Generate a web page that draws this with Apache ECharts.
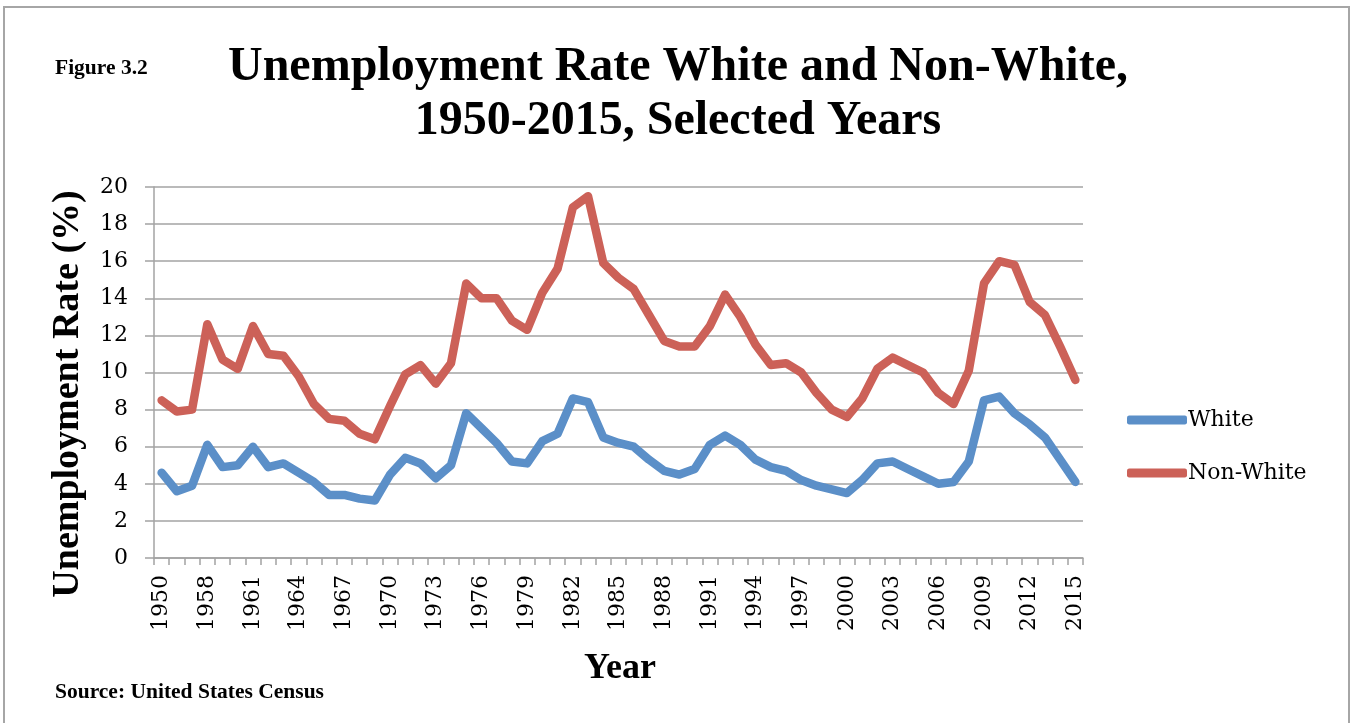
<!DOCTYPE html>
<html>
<head>
<meta charset="utf-8">
<script src="https://cdn.jsdelivr.net/npm/echarts@6/dist/echarts.min.js"></script>
<style>
  html, body { margin: 0; padding: 0; background: #fff; }
  #chart { width: 1351px; height: 723px; }
</style>
</head>
<body>
<div id="chart"></div>
<script>
const years = ['1950','1956','1957','1958','1959','1960','1961','1962','1963','1964','1965','1966','1967','1968','1969',
  '1970','1971','1972','1973','1974','1975','1976','1977','1978','1979','1980','1981','1982','1983','1984','1985',
  '1986','1987','1988','1989','1990','1991','1992','1993','1994','1995','1996','1997','1998','1999','2000','2001',
  '2002','2003','2004','2005','2006','2007','2008','2009','2010','2011','2012','2013','2014','2015'];
const white = [4.6,3.6,3.9,6.1,4.9,5.0,6.0,4.9,5.1,4.6,4.1,3.4,3.4,3.2,3.1,4.5,5.4,5.1,4.3,5.0,7.8,7.0,6.2,5.2,5.1,6.3,
  6.7,8.6,8.4,6.5,6.2,6.0,5.3,4.7,4.5,4.8,6.1,6.6,6.1,5.3,4.9,4.7,4.2,3.9,3.7,3.5,4.2,5.1,5.2,4.8,4.4,4.0,4.1,5.2,
  8.5,8.7,7.8,7.2,6.5,5.3,4.1];
const nonWhite = [8.5,7.9,8.0,12.6,10.7,10.2,12.5,11.0,10.9,9.8,8.3,7.5,7.4,6.7,6.4,8.2,9.9,10.4,9.4,10.5,14.8,14.0,14.0,
  12.8,12.3,14.3,15.6,18.9,19.5,15.9,15.1,14.5,13.1,11.7,11.4,11.4,12.5,14.2,13.0,11.5,10.4,10.5,10.0,8.9,8.0,7.6,8.6,
  10.2,10.8,10.4,10.0,8.9,8.3,10.1,14.8,16.0,15.8,13.8,13.1,11.4,9.6];
const seriesNames = ['White', 'Non-White'];
const titleLines = ['Unemployment Rate White and Non-White,', '1950-2015, Selected Years'];

const chart = echarts.init(document.getElementById('chart'), null, { renderer: 'canvas' });
const serifB = 'bold {S}px "Liberation Serif", "Times New Roman", serif';
const f = s => serifB.replace('{S}', s);
const tickFont = '"DejaVu Serif", serif';
const gray = '#A3A3A3';

function txt(text, x, y, font, align, extra) {
  return Object.assign({
    type: 'text', x: x, y: y,
    style: { text: text, font: font, fill: '#000', align: align, verticalAlign: 'middle',
             textAlign: align, textVerticalAlign: 'middle' }
  }, extra || {});
}

chart.setOption({
  backgroundColor: '#fff',
  animation: false,
  grid: { left: 154, right: 268, top: 187, bottom: 165 },
  legend: {
    orient: 'vertical', left: 1122, top: 404,
    itemWidth: 60, itemHeight: 9, itemGap: 31,
    icon: 'roundRect',
    textStyle: { fontFamily: tickFont, fontSize: 22, color: '#000', padding: [0,0,0,-4] },
    data: seriesNames
  },
  xAxis: {
    type: 'category', data: years, boundaryGap: true,
    axisLine: { show: true, lineStyle: { color: gray, width: 1.5 } },
    axisTick: { show: true, interval: 0, length: 7, lineStyle: { color: gray, width: 1.5 } },
    axisLabel: { interval: 2, rotate: 90, margin: 17, fontFamily: tickFont, fontSize: 22, color: '#000' },
    splitLine: { show: false }
  },
  yAxis: {
    type: 'value', min: 0, max: 20, interval: 2,
    axisLine: { show: true, lineStyle: { color: gray, width: 1.5 } },
    axisTick: { show: true, length: 9, lineStyle: { color: gray, width: 1.5 } },
    axisLabel: { margin: 26, fontFamily: tickFont, fontSize: 22, color: '#000' },
    splitLine: { show: true, lineStyle: { color: gray, width: 1.5 } }
  },
  series: [
    { name: seriesNames[0], type: 'line', data: white, showSymbol: false, symbol: 'none',
      color: '#5B8FC8', lineStyle: { width: 8.5, color: '#5B8FC8', cap: 'round', join: 'round' } },
    { name: seriesNames[1], type: 'line', data: nonWhite, showSymbol: false, symbol: 'none',
      color: '#CC6158', lineStyle: { width: 8.5, color: '#CC6158', cap: 'round', join: 'round' } }
  ],
  graphic: [
    { type: 'rect', shape: { x: 4, y: 7, width: 1345, height: 800 }, silent: true,
      style: { fill: 'none', stroke: '#A6A6A6', lineWidth: 2 } },
    txt('Figure 3.2', 55, 68, f(21.5), 'left'),
    txt(titleLines[0], 678, 68, f(48), 'center'),
    txt(titleLines[1], 678, 122, f(48), 'center'),
    txt('Unemployment Rate (%)', 68, 394, f(38), 'center', { rotation: Math.PI / 2 }),
    txt('Year', 620, 669, f(36), 'center'),
    txt('Source: United States Census', 55, 692, f(21.5), 'left')
  ]
});
</script>
</body>
</html>
